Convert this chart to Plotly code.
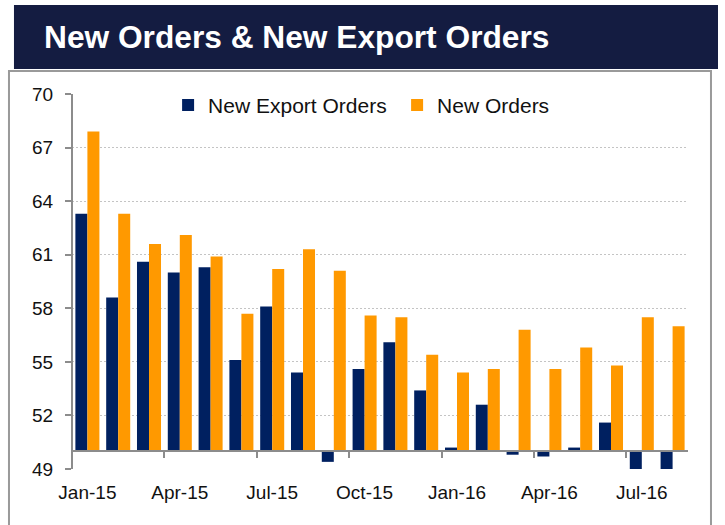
import plotly.graph_objects as go

months = ["Jan-15", "Feb-15", "Mar-15", "Apr-15", "May-15", "Jun-15", "Jul-15", "Aug-15",
          "Sep-15", "Oct-15", "Nov-15", "Dec-15", "Jan-16", "Feb-16", "Mar-16", "Apr-16",
          "May-16", "Jun-16", "Jul-16", "Aug-16"]
new_export_orders = [63.3, 58.6, 60.6, 60.0, 60.3, 55.1, 58.1, 54.4, 49.4, 54.6,
                     56.1, 53.4, 50.2, 52.6, 49.8, 49.7, 50.2, 51.6, 48.7, 48.7]
new_orders = [67.9, 63.3, 61.6, 62.1, 60.9, 57.7, 60.2, 61.3, 60.1, 57.6,
              57.5, 55.4, 54.4, 54.6, 56.8, 54.6, 55.8, 54.8, 57.5, 57.0]
baseline = 50
y_ticks = [49, 52, 55, 58, 61, 64, 67, 70]

FONT = "Liberation Sans, Arial, sans-serif"
NAVY = "#002060"
ORANGE = "#FF9900"
AXIS = "#8c8c8c"

fig = go.Figure()
fig.add_trace(go.Bar(name="New Export Orders", x=months,
                     y=[v - baseline for v in new_export_orders], base=baseline,
                     marker=dict(color=NAVY, line=dict(width=0))))
fig.add_trace(go.Bar(name="New Orders", x=months,
                     y=[v - baseline for v in new_orders], base=baseline,
                     marker=dict(color=ORANGE, line=dict(width=0))))

fig.update_layout(
    width=725, height=525,
    margin=dict(l=72, r=37, t=94, b=56, autoexpand=False),
    paper_bgcolor="white", plot_bgcolor="white",
    font=dict(family=FONT, size=19, color="#111111"),
    barmode="group", bargap=0.22, bargroupgap=0,
    showlegend=True,
    legend=dict(orientation="h", x=0.156, xanchor="left", y=0.97, yanchor="middle",
                font=dict(size=21, family=FONT), bgcolor="rgba(0,0,0,0)",
                entrywidth=184, entrywidthmode="pixels"),
    xaxis=dict(type="category", range=[-0.5, len(months) - 0.5], automargin=False,
               anchor="free", position=(baseline - y_ticks[0]) / (y_ticks[-1] - y_ticks[0]),
               showline=True, linecolor=AXIS, linewidth=2,
               ticks="outside", ticklen=6, tickwidth=1.5, tickcolor=AXIS,
               tickson="boundaries", tickmode="linear", tick0=0, dtick=3, tickangle=0,
               ticklabelstandoff=24, showgrid=False, zeroline=False,
               tickfont=dict(size=19, family=FONT, color="#111111")),
    yaxis=dict(range=[y_ticks[0], y_ticks[-1]], tickvals=y_ticks, automargin=False,
               anchor="free", position=0,
               showline=True, linecolor=AXIS, linewidth=2,
               ticks="outside", ticklen=6, tickwidth=1.5, tickcolor=AXIS,
               showgrid=True, gridcolor="#c4c4c4", griddash="2px,2px", gridwidth=1,
               zeroline=False, ticklabelstandoff=8,
               tickfont=dict(size=19, family=FONT, color="#111111")),
    shapes=[
        dict(type="rect", xref="paper", yref="paper",
             x0=-0.1023, x1=1.0373, y0=-0.2, y1=1.0613,
             line=dict(color="#9a9a9a", width=2), fillcolor="rgba(0,0,0,0)", layer="below"),
        dict(type="rect", xref="paper", yref="paper",
             x0=-0.0942, x1=1.0487, y0=1.0667, y1=1.2373,
             line=dict(width=0), fillcolor="#141c41", layer="above"),
    ],
    annotations=[
        dict(text="<b>New Orders & New Export Orders</b>", xref="paper", yref="paper",
             x=-0.0487, y=1.152, xanchor="left", yanchor="middle", showarrow=False,
             font=dict(family=FONT, size=31.7, color="white")),
    ],
)

fig.write_html("out.html", config={"displayModeBar": False},
               post_script="document.body.style.margin='0';")
